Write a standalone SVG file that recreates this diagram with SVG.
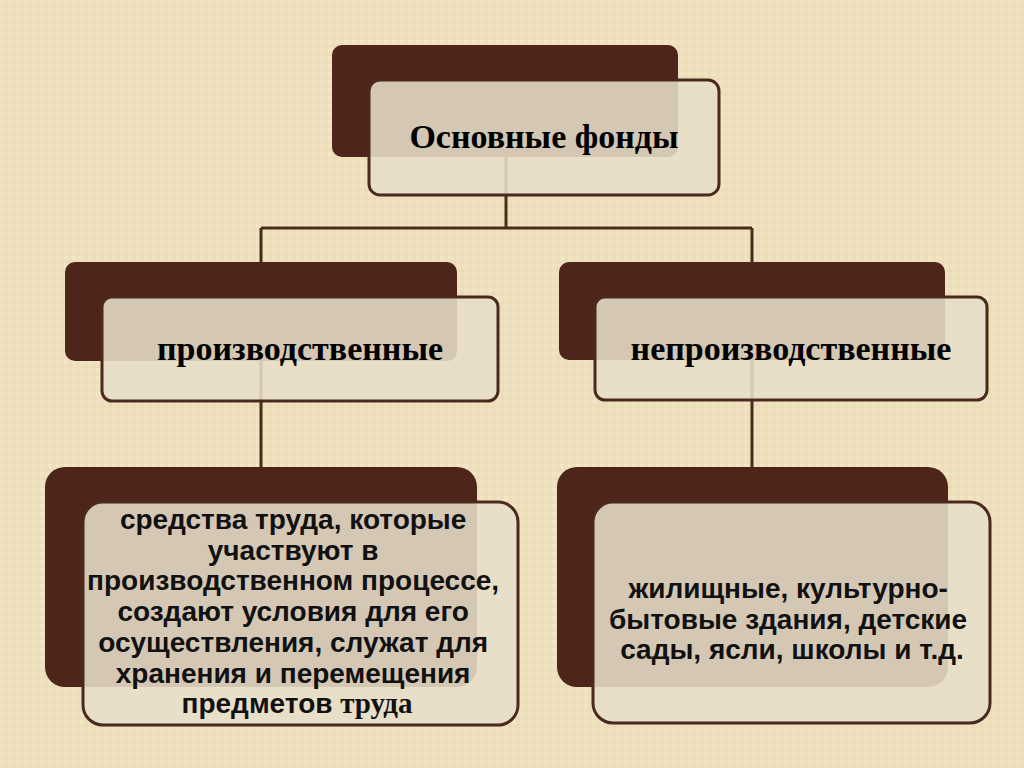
<svg xmlns="http://www.w3.org/2000/svg" width="1024" height="768" viewBox="0 0 1024 768">
  <defs>
    <pattern id="tex" width="8" height="8" patternUnits="userSpaceOnUse">
      <rect width="8" height="8" fill="#efe0bd"/>
      <rect x="0" y="0" width="4" height="4" fill="#f2e5c4"/>
      <rect x="4" y="4" width="4" height="4" fill="#ecdcb7"/>
    </pattern>
    <style>
      .back { fill: #4e251b; }
      .front { fill: #e7deca; fill-opacity: 0.88; stroke: #4a291e; stroke-width: 3; }
      .conn { fill: none; stroke: #4b2a1f; stroke-width: 3; }
      .serif { font-family: "Liberation Serif", "Times New Roman", serif; font-weight: bold; fill: #000; text-anchor: middle; }
      .sans { font-family: "Liberation Sans", Arial, sans-serif; font-weight: bold; fill: #111; text-anchor: middle; font-size: 28px; }
    </style>
  </defs>
  <rect width="1024" height="768" fill="url(#tex)"/>

  <g id="connectors">
    <path class="conn" d="M506 110 V228 M261 228 H752 M261 228 V467 M752 228 V467"/>
  </g>

  <g id="node-main">
    <rect class="back" x="332" y="45" width="346" height="112" rx="10"/>
    <rect class="front" x="369" y="80" width="350" height="115" rx="11"/>
    <text class="serif" x="544" y="148" font-size="34">Основные фонды</text>
  </g>

  <g id="node-prod">
    <rect class="back" x="65" y="262" width="392" height="99" rx="10"/>
    <rect class="front" x="102" y="297" width="396" height="104" rx="10"/>
    <text class="serif" x="300" y="360" font-size="34">производственные</text>
  </g>

  <g id="node-nonprod">
    <rect class="back" x="559" y="262" width="386" height="98" rx="10"/>
    <rect class="front" x="595" y="297" width="392" height="103" rx="10"/>
    <text class="serif" x="791" y="360" font-size="34">непроизводственные</text>
  </g>

  <g id="node-prod-desc">
    <rect class="back" x="45" y="467" width="432" height="220" rx="20"/>
    <rect class="front" x="83" y="502" width="435" height="223" rx="20"/>
    <text class="sans">
      <tspan x="297" y="529">средства труда, которые</tspan>
      <tspan x="297" y="560">участвуют в</tspan>
      <tspan x="297" y="590">производственном процессе,</tspan>
      <tspan x="297" y="621">создают условия для его</tspan>
      <tspan x="297" y="652">осуществления, служат для</tspan>
      <tspan x="297" y="683">хранения и перемещения</tspan>
      <tspan x="297" y="713">предметов <tspan font-family="Liberation Serif, Times New Roman, serif" font-size="29">труда</tspan></tspan>
    </text>
  </g>

  <g id="node-nonprod-desc">
    <rect class="back" x="557" y="467" width="391" height="220" rx="20"/>
    <rect class="front" x="593" y="502" width="397" height="221" rx="20"/>
    <text class="sans">
      <tspan x="792" y="598">жилищные, культурно-</tspan>
      <tspan x="792" y="629">бытовые здания, детские</tspan>
      <tspan x="792" y="659">сады, ясли, школы и т.д.</tspan>
    </text>
  </g>
</svg>
